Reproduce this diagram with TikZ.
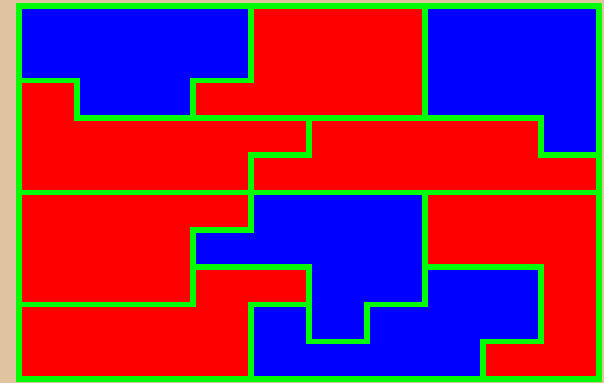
\documentclass[tikz,border=0pt]{standalone}
\usepackage{tikz}
\definecolor{cSand}{RGB}{224,196,160}
\definecolor{cRed}{HTML}{FF0000}
\definecolor{cBlue}{HTML}{0000FF}
\definecolor{cEdge}{HTML}{00FF00}
\tikzset{
  tile/.style={fill=#1, draw=cEdge, line width=5.5pt, line join=miter},
}

\begin{document}
\begin{tikzpicture}[x=58pt, y=-37.3pt]
  % sand board
  \fill[cSand] (-19pt,6pt) rectangle (585pt,-377pt);
  % upper half
  \filldraw[tile=cBlue] (0,0) -- (4,0) -- (4,2) -- (3,2) -- (3,3) -- (1,3) -- (1,2) -- (0,2) -- cycle;
  \filldraw[tile=cRed]  (4,0) -- (7,0) -- (7,3) -- (3,3) -- (3,2) -- (4,2) -- cycle;
  \filldraw[tile=cBlue] (7,0) -- (10,0) -- (10,4) -- (9,4) -- (9,3) -- (7,3) -- cycle;
  \filldraw[tile=cRed]  (0,2) -- (1,2) -- (1,3) -- (5,3) -- (5,4) -- (4,4) -- (4,5) -- (0,5) -- cycle;
  \filldraw[tile=cRed]  (5,3) -- (9,3) -- (9,4) -- (10,4) -- (10,5) -- (4,5) -- (4,4) -- (5,4) -- cycle;
  % lower half
  \filldraw[tile=cRed]  (0,5) -- (4,5) -- (4,6) -- (3,6) -- (3,8) -- (0,8) -- cycle;
  \filldraw[tile=cRed]  (0,8) -- (3,8) -- (3,7) -- (5,7) -- (5,8) -- (4,8) -- (4,10) -- (0,10) -- cycle;
  \filldraw[tile=cBlue] (4,5) -- (7,5) -- (7,8) -- (6,8) -- (6,9) -- (5,9) -- (5,7) -- (3,7) -- (3,6) -- (4,6) -- cycle;
  \filldraw[tile=cBlue] (4,8) -- (5,8) -- (5,9) -- (6,9) -- (6,8) -- (7,8) -- (7,7) -- (9,7) -- (9,9) -- (8,9) -- (8,10) -- (4,10) -- cycle;
  \filldraw[tile=cRed]  (7,5) -- (10,5) -- (10,10) -- (8,10) -- (8,9) -- (9,9) -- (9,7) -- (7,7) -- cycle;
\end{tikzpicture}
\end{document}
